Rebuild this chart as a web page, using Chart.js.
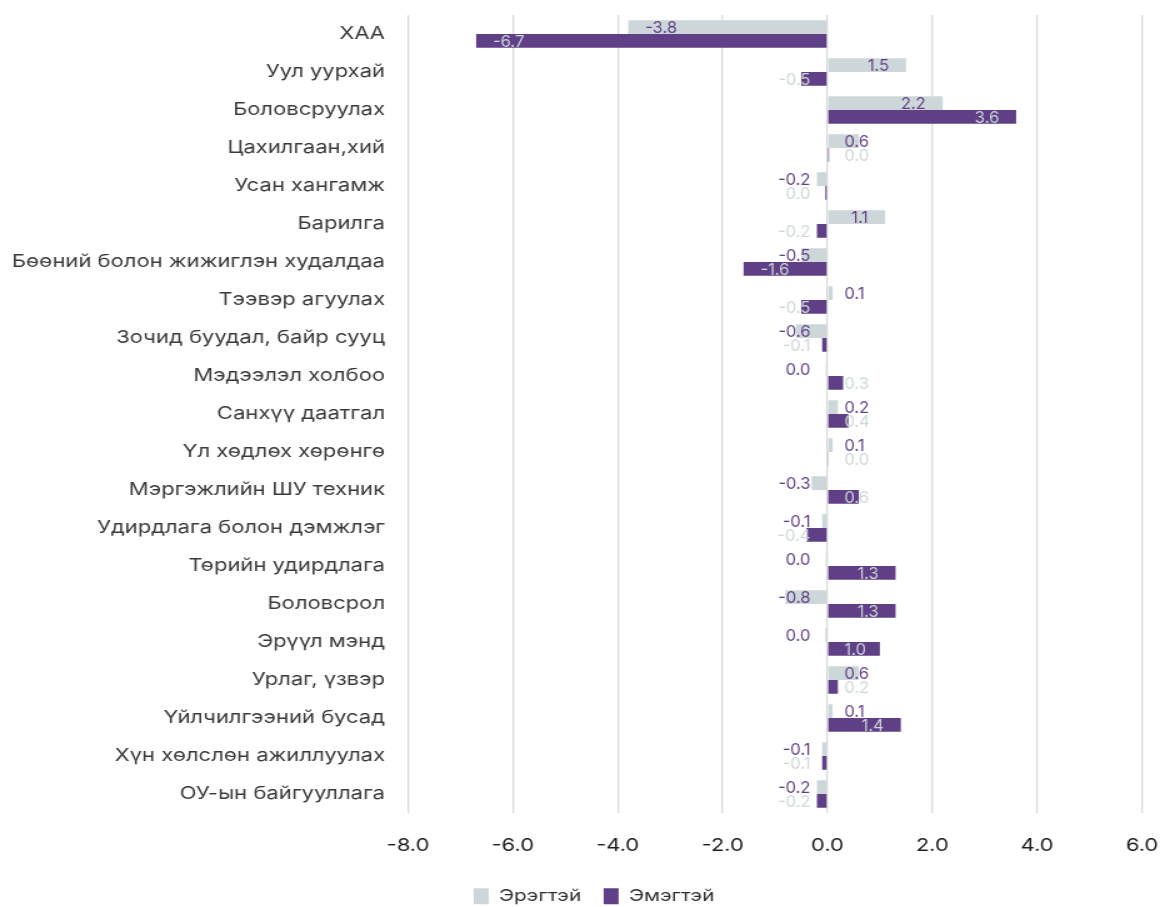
<!DOCTYPE html>
<html>
<head>
<meta charset="utf-8">
<script src="https://cdn.jsdelivr.net/npm/chart.js@4.4.1/dist/chart.umd.min.js"></script>
<style>
  html, body { margin: 0; padding: 0; background: #ffffff; overflow: hidden; }
  #wrap {
    width: 930px;
    height: 907px;
    transform: scaleX(1.25);
    transform-origin: 0 0;
  }
</style>
</head>
<body>
<div id="wrap"><canvas id="chart" width="930" height="907"></canvas></div>
<script>
// Салбаруудын нэрс
const sectors = [
  'ХАА',
  'Уул уурхай',
  'Боловсруулах',
  'Цахилгаан,хий',
  'Усан хангамж',
  'Барилга',
  'Бөөний болон жижиглэн худалдаа',
  'Тээвэр агуулах',
  'Зочид буудал, байр сууц',
  'Мэдээлэл холбоо',
  'Санхүү даатгал',
  'Үл хөдлөх хөрөнгө',
  'Мэргэжлийн ШУ техник',
  'Удирдлага болон дэмжлэг',
  'Төрийн удирдлага',
  'Боловсрол',
  'Эрүүл мэнд',
  'Урлаг, үзвэр',
  'Үйлчилгээний бусад',
  'Хүн хөлслөн ажиллуулах',
  'ОУ-ын байгууллага'
];

// Эрэгтэй ажиллагсдын өөрчлөлт
const maleValues = [
  -3.8, 1.5, 2.2, 0.6, -0.2, 1.1, -0.5, 0.1, -0.6, -0.03, 0.2,
  0.1, -0.3, -0.1, -0.03, -0.8, -0.04, 0.6, 0.1, -0.1, -0.2
];

// Эмэгтэй ажиллагсдын өөрчлөлт
const femaleValues = [
  -6.7, -0.5, 3.6, 0.03, -0.04, -0.2, -1.6, -0.5, -0.1, 0.3, 0.4,
  0.02, 0.6, -0.4, 1.3, 1.3, 1.0, 0.2, 1.4, -0.1, -0.2
];

// Тэнхлэгийн хуваарь
const axisTicks = [-8, -6, -4, -2, 0, 2, 4, 6];

const seriesNames = ['Эрэгтэй', 'Эмэгтэй'];
const barColors = ['#cdd7d9', '#5f3f85'];
const valueLabelColors = ['#5f3f85', '#cdd7d9'];

const FONT = 'Inter, "Noto Sans", sans-serif';
const STRETCH = 1.25;   // the page is widened horizontally by this factor

function formatValue(v) {
  const r = Math.abs(v) < 0.05 ? 0 : v;
  return r.toFixed(1);
}

// Баганын утгыг бичих (text is drawn without the horizontal widening)
const valueLabels = {
  id: 'valueLabels',
  afterDatasetsDraw(chart) {
    const ctx = chart.ctx;
    const xs = chart.scales.x;
    const zero = xs.getPixelForValue(0);
    const gap = 17 / STRETCH;
    ctx.save();
    ctx.font = '16.5px ' + FONT;
    ctx.textBaseline = 'middle';
    ctx.textAlign = 'left';
    chart.data.datasets.forEach((ds, di) => {
      const meta = chart.getDatasetMeta(di);
      meta.data.forEach((bar, i) => {
        const v = ds.data[i];
        const text = formatValue(v);
        const w = ctx.measureText(text).width / STRETCH;
        let left;
        if (v >= 0) {
          left = Math.max(bar.x - gap - w, zero + gap);
        } else {
          left = Math.min(bar.x + gap, zero - gap - w);
        }
        ctx.fillStyle = valueLabelColors[di];
        ctx.save();
        ctx.translate(left, bar.y + 1);
        ctx.scale(1 / STRETCH, 1);
        ctx.fillText(text, 0, 0);
        ctx.restore();
      });
    });
    ctx.restore();
  }
};

// Тайлбарыг баруун тийш бага зэрэг шилжүүлэх
const legendShift = {
  id: 'legendShift',
  afterLayout(chart) {
    const lg = chart.legend;
    if (lg) {
      lg.left += 18.4;
      lg.right += 18.4;
    }
  }
};

new Chart(document.getElementById('chart'), {
  type: 'bar',
  data: {
    labels: sectors,
    datasets: [
      {
        label: seriesNames[0],
        data: maleValues,
        backgroundColor: barColors[0],
        borderWidth: 0,
        categoryPercentage: 0.72,
        barPercentage: 1.0
      },
      {
        label: seriesNames[1],
        data: femaleValues,
        backgroundColor: barColors[1],
        borderWidth: 0,
        categoryPercentage: 0.72,
        barPercentage: 1.0
      }
    ]
  },
  options: {
    indexAxis: 'y',
    responsive: false,
    animation: false,
    layout: { padding: { left: 0, right: 16.4, top: 15, bottom: 0 } },
    scales: {
      x: {
        min: -8,
        max: 6,
        afterBuildTicks(scale) {
          scale.ticks = axisTicks.map(v => ({ value: v }));
        },
        afterFit(scale) {
          scale.height = 57;
          scale.paddingLeft = 0;
          scale.paddingRight = 0;
        },
        grid: {
          color: '#d9d9d9',
          lineWidth: 1.3,
          drawTicks: false
        },
        border: { display: false },
        ticks: {
          padding: 22,
          color: '#1f1f1f',
          font: { family: FONT, size: 17.5 },
          callback: v => Number(v).toFixed(1)
        }
      },
      y: {
        afterFit(scale) {
          scale.width = 326.4;
          scale.paddingTop = 0;
          scale.paddingBottom = 0;
        },
        grid: { display: false, drawTicks: false },
        border: { display: false },
        ticks: {
          padding: 18.4,
          color: '#3a3a3a',
          font: { family: FONT, size: 17.6 }
        }
      }
    },
    plugins: {
      legend: {
        position: 'bottom',
        maxHeight: 37,
        labels: {
          boxWidth: 12,
          boxHeight: 16,
          padding: 18,
          color: '#2e2e2e',
          font: { family: FONT, size: 16.5 }
        }
      },
      tooltip: { enabled: false }
    }
  },
  plugins: [valueLabels, legendShift]
});
</script>
</body>
</html>
